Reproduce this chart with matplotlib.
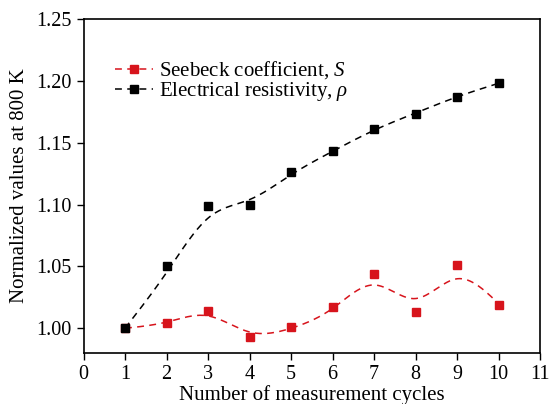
import numpy as np
import matplotlib
matplotlib.use("Agg")
import matplotlib.pyplot as plt

cycles = [1, 2, 3, 4, 5, 6, 7, 8, 9, 10]
seebeck = [1.000, 1.004, 1.014, 0.993, 1.001, 1.017, 1.044, 1.013, 1.051, 1.019]
resistivity = [1.000, 1.050, 1.099, 1.100, 1.126, 1.143, 1.161, 1.173, 1.187, 1.198]
# fitted (smoothed) trend values
seebeck_fit = [1.000, 1.005, 1.010, 0.997, 1.000, 1.016, 1.035, 1.024, 1.040, 1.020]
resistivity_fit = [1.000, 1.045, 1.089, 1.104, 1.124, 1.143, 1.160, 1.174, 1.187, 1.198]

xticks = list(range(0, 12))
yticks = [1.00, 1.05, 1.10, 1.15, 1.20, 1.25]


def natural_spline(x, y, n=300):
    x = np.asarray(x, float)
    y = np.asarray(y, float)
    k = len(x)
    h = np.diff(x)
    A = np.zeros((k, k))
    b = np.zeros(k)
    A[0, 0] = 1
    A[-1, -1] = 1
    for i in range(1, k - 1):
        A[i, i - 1] = h[i - 1]
        A[i, i] = 2 * (h[i - 1] + h[i])
        A[i, i + 1] = h[i]
        b[i] = 6 * ((y[i + 1] - y[i]) / h[i] - (y[i] - y[i - 1]) / h[i - 1])
    M = np.linalg.solve(A, b)
    xs = np.linspace(x[0], x[-1], n)
    idx = np.clip(np.searchsorted(x, xs) - 1, 0, k - 2)
    x0, x1 = x[idx], x[idx + 1]
    hh = x1 - x0
    ys = (M[idx] * (x1 - xs) ** 3 / (6 * hh) + M[idx + 1] * (xs - x0) ** 3 / (6 * hh)
          + (y[idx] / hh - M[idx] * hh / 6) * (x1 - xs)
          + (y[idx + 1] / hh - M[idx + 1] * hh / 6) * (xs - x0))
    return xs, ys


plt.rcParams['font.family'] = ['Liberation Serif', 'DejaVu Serif']
plt.rcParams['mathtext.fontset'] = 'custom'
plt.rcParams['mathtext.it'] = 'Liberation Serif:italic'
plt.rcParams['mathtext.rm'] = 'Liberation Serif'

fig = plt.figure(figsize=(5.5, 4.04), dpi=100)
ax = fig.add_axes([83.5 / 550, 1 - 353 / 404, (540 - 83.5) / 550, (353 - 19) / 404])

red = '#d7141c'
black = '#000000'
dash = (0, (4.5, 3.5))

xs, ys = natural_spline(cycles, seebeck_fit)
ax.plot(xs, ys, color=red, lw=1.1, linestyle=dash)
xs, ys = natural_spline(cycles, resistivity_fit)
ax.plot(xs, ys, color=black, lw=1.1, linestyle=dash)
ax.plot(cycles, seebeck, linestyle='none', marker='s', ms=5.5, color=red)
ax.plot(cycles, resistivity, linestyle='none', marker='s', ms=5.5, color=black)

h1, = ax.plot([], [], color=red, lw=1.1, linestyle=dash, marker='s', ms=5.5)
h2, = ax.plot([], [], color=black, lw=1.1, linestyle=dash, marker='s', ms=5.5)
ax.legend([h1, h2], ['Seebeck coefficient, $S$', r'Electrical resistivity, $\rho$'],
          loc='upper left', bbox_to_anchor=(0.047, 0.91), frameon=False,
          fontsize=15, handlelength=1.8, handletextpad=0.3, labelspacing=-0.05,
          borderpad=0)

ax.set_xlim(0, 11)
ax.set_ylim(0.98, 1.25)
ax.set_xticks(xticks)
ax.set_yticks(yticks)
ax.set_yticklabels([f'{v:.2f}' for v in yticks])
ax.tick_params(axis='both', direction='out', length=5, width=1, labelsize=14.5,
               top=False, right=False)
for s in ax.spines.values():
    s.set_linewidth(1.2)
ax.set_xlabel('Number of measurement cycles', fontsize=15, labelpad=1)
ax.set_ylabel('Normalized values at 800 K', fontsize=15, labelpad=5)

fig.savefig('out.png', dpi=100)
